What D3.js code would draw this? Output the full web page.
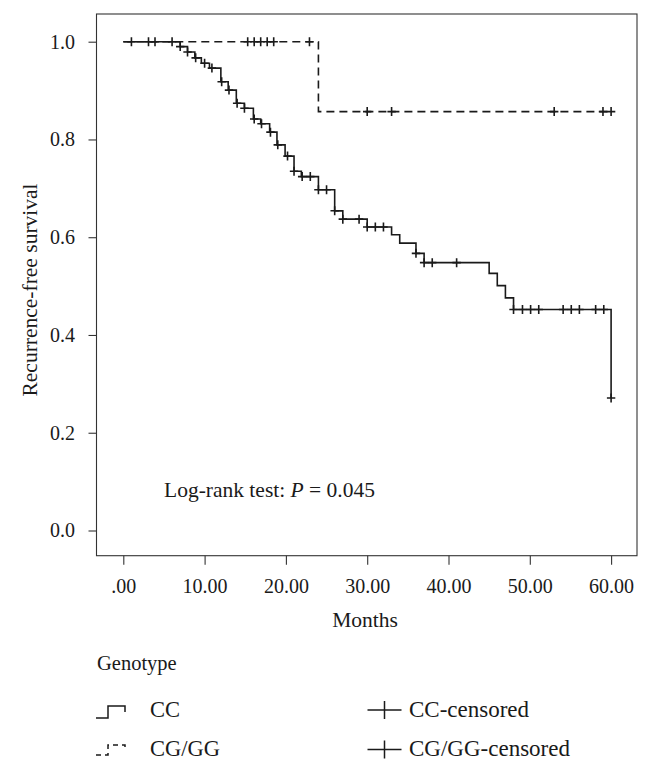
<!DOCTYPE html>
<html><head><meta charset="utf-8">
<script src="https://cdn.jsdelivr.net/npm/d3@7"></script>
<style>
body{margin:0;background:#fff}
svg{display:block}
text{font-family:"Liberation Serif","Times New Roman",serif;fill:#1a1a1a}
</style>
</head><body><svg id="c" width="652" height="769"></svg>
<script>
// ---- data ----
const ccEventTimes = [7.0,7.9,8.8,9.6,10.6,12.0,12.9,13.9,14.9,16.0,16.9,18.0,18.9,19.9,21.0,21.9,24.0,26.0,27.0,30.0,33.0,34.0,36.0,37.0,45.0,46.0,47.0,48.0,60.0];
const ccSurvival   = [0.990,0.979,0.967,0.956,0.946,0.918,0.901,0.874,0.864,0.842,0.832,0.815,0.789,0.766,0.735,0.724,0.697,0.654,0.637,0.621,0.605,0.588,0.567,0.548,0.526,0.501,0.476,0.452,0.271];
const ccCensorTimes = [7.0,7.9,8.9,10.0,10.9,12.1,13.0,14.0,14.9,16.1,17.0,18.1,19.0,20.2,21.0,22.0,23.0,24.0,25.0,26.0,27.0,29.0,30.0,31.0,32.0,36.0,37.0,38.0,41.0,48.0,49.1,50.1,51.1,54.1,55.1,56.1,58.1,59.1,60.0];
const cgEventTimes = [24.0];
const cgSurvival   = [0.857];
const cgCensorTimes = [1.0,3.1,3.9,6.0,15.3,16.1,16.9,17.7,18.5,22.9,30.0,33.0,53.0,59.0,60.0];
const cgEndTime = 60.0;
const xTickValues = [0,10,20,30,40,50,60];
const xTickLabels = [".00","10.00","20.00","30.00","40.00","50.00","60.00"];
const yTickValues = [0,0.2,0.4,0.6,0.8,1.0];
const yTickLabels = ["0.0","0.2","0.4","0.6","0.8","1.0"];
const legendTitle = "Genotype";
const seriesNames = ["CC","CG/GG"];
const censorNames = ["CC-censored","CG/GG-censored"];

// ---- layout ----
const svg = d3.select("#c");
const box = {l:96.5, t:14, r:637, b:555.7};
const x = d3.scaleLinear().domain([0,60]).range([123.3,611.1]);
const y = d3.scaleLinear().domain([0,1]).range([530.5,41.7]);
const ink = "#1a1a1a";

svg.append("rect").attr("width",652).attr("height",769).attr("fill","#fff");
svg.append("rect").attr("x",box.l).attr("y",box.t)
  .attr("width",box.r-box.l).attr("height",box.b-box.t)
  .attr("fill","none").attr("stroke","#333").attr("stroke-width",1.1);

// axes
const ya = svg.append("g").attr("transform",`translate(${box.l},0)`)
  .call(d3.axisLeft(y).tickValues(yTickValues).tickFormat((d,i)=>yTickLabels[i]).tickSize(8).tickPadding(13.5));
const xa = svg.append("g").attr("transform",`translate(0,${box.b})`)
  .call(d3.axisBottom(x).tickValues(xTickValues).tickFormat((d,i)=>xTickLabels[i]).tickSize(9).tickPadding(14));
[ya,xa].forEach(g=>{
  g.select(".domain").remove();
  g.selectAll("line").attr("stroke","#333").attr("stroke-width",1.1);
  g.selectAll("text").attr("font-family","Liberation Serif").attr("font-size",20).attr("fill",ink);
});

// axis titles
svg.append("text").attr("transform","translate(37,290) rotate(-90)")
  .attr("text-anchor","middle").attr("font-size",21.5).text("Recurrence-free survival");
svg.append("text").attr("x",365).attr("y",627)
  .attr("text-anchor","middle").attr("font-size",21.5).text("Months");

// log-rank annotation
const lr = svg.append("text").attr("x",164).attr("y",497).attr("font-size",21.5);
lr.append("tspan").text("Log-rank test: ");
lr.append("tspan").attr("font-style","italic").text("P");
lr.append("tspan").text(" = 0.045");

// KM curves
function stepPoints(times, surv, end){
  const pts = [[0,1]];
  times.forEach((t,i)=>pts.push([t,surv[i]]));
  if (end !== undefined && end > times[times.length-1]) pts.push([end, surv[surv.length-1]]);
  return pts;
}
function survAt(times, surv, t){
  let s = 1;
  times.forEach((tt,i)=>{ if (tt <= t + 1e-9) s = surv[i]; });
  return s;
}
const line = d3.line().x(d=>x(d[0])).y(d=>y(d[1])).curve(d3.curveStepAfter);

svg.append("path").attr("d",line(stepPoints(cgEventTimes,cgSurvival,cgEndTime)))
  .attr("fill","none").attr("stroke",ink).attr("stroke-width",1.6).attr("stroke-dasharray","8,5");
svg.append("path").attr("d",line(stepPoints(ccEventTimes,ccSurvival)))
  .attr("fill","none").attr("stroke",ink).attr("stroke-width",1.6);

function plus(cx,cy,hw,hh){ return `M${cx-hw},${cy}H${cx+hw}M${cx},${cy-hh}V${cy+hh}`; }
const marks = svg.append("g").attr("stroke",ink).attr("stroke-width",1.6).attr("fill","none");
cgCensorTimes.forEach(t=>marks.append("path").attr("d",plus(x(t),y(survAt(cgEventTimes,cgSurvival,t)),4.2,4.5)));
ccCensorTimes.forEach(t=>marks.append("path").attr("d",plus(x(t),y(survAt(ccEventTimes,ccSurvival,t)),4.2,4.5)));

// legend
svg.append("text").attr("x",97).attr("y",670).attr("font-size",20.5).text(legendTitle);
const rows = [717, 756];
const lg = svg.append("g").attr("fill","none").attr("stroke",ink).attr("stroke-width",1.5);
lg.append("path").attr("d","M96,718H108V706H125V712");
lg.append("path").attr("d","M96,755H108V745H125V751").attr("stroke-dasharray","5,4");
lg.append("path").attr("d",plus(384.5,710,17,9));
lg.append("path").attr("d",plus(384.5,749.5,17,9));
seriesNames.forEach((n,i)=>svg.append("text").attr("x",150).attr("y",rows[i]).attr("font-size",22.5).text(n));
censorNames.forEach((n,i)=>svg.append("text").attr("x",409).attr("y",rows[i]).attr("font-size",23).text(n));
</script>
</body></html>
